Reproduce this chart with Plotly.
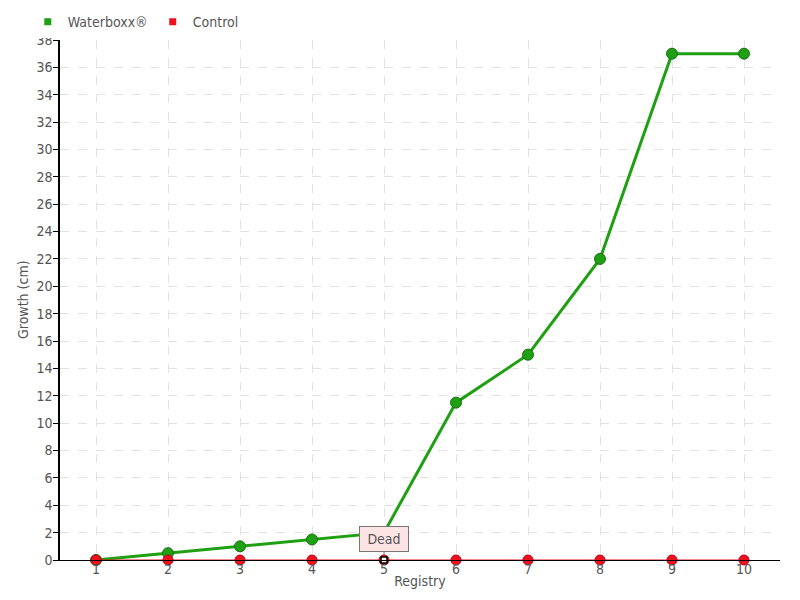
import plotly.graph_objects as go

registry = [1, 2, 3, 4, 5, 6, 7, 8, 9, 10]
waterboxx = [0, 0.5, 1, 1.5, 2, 11.5, 15, 22, 37, 37]
control = [0, 0, 0, 0, 0, 0, 0, 0, 0, 0]
note_x = 5
note_y = 0
note_text = "Dead"
y_ticks = list(range(0, 39, 2))

FONT = "DejaVu Sans Condensed, DejaVu Sans, sans-serif"
GREEN = "#1fa012"
RED = "#f0101e"

fig = go.Figure()
fig.add_trace(go.Scatter(
    x=registry, y=waterboxx, name="Waterboxx®", mode="lines+markers",
    line=dict(color=GREEN, width=3), showlegend=False, cliponaxis=False,
    marker=dict(color=GREEN, size=11, line=dict(color="#1a6e14", width=1)),
))
fig.add_trace(go.Scatter(
    x=registry, y=control, name="Control", mode="lines+markers",
    line=dict(color=RED, width=1.2), showlegend=False, cliponaxis=False,
    marker=dict(color=RED, size=10, line=dict(color="#c00010", width=1)),
))
fig.add_trace(go.Scatter(
    x=[note_x], y=[note_y], mode="markers", showlegend=False, hoverinfo="skip",
    cliponaxis=False,
    marker=dict(symbol="square", color="white", size=6, line=dict(color="black", width=1.5)),
))
# legend-only entries with square symbols
for nm, col in [("Waterboxx®", GREEN), ("Control", RED)]:
    fig.add_trace(go.Scatter(
        x=[None], y=[None], name=nm, mode="markers",
        marker=dict(symbol="square", color=col, size=7),
    ))

fig.add_annotation(
    x=note_x, y=note_y, text=note_text, showarrow=True, arrowhead=0,
    ax=0, ay=-21, arrowcolor="#777", arrowwidth=1, standoff=5,
    width=44, height=20,
    bgcolor="#fde4e4", bordercolor="#777", borderwidth=1, borderpad=2,
    font=dict(family=FONT, size=14, color="#555"),
)
# y-axis title
fig.add_annotation(
    xref="paper", yref="paper", x=0, y=0.5, xshift=-37, xanchor="center",
    yanchor="middle", textangle=-90, showarrow=False, text="Growth (cm)",
    font=dict(family=FONT, size=14, color="#555"),
)

# the page places the figure 8px in from the top-left corner
fig.update_layout(
    width=792, height=592,
    margin=dict(l=52, r=20, t=32, b=40, autoexpand=False),
    plot_bgcolor="white", paper_bgcolor="white",
    font=dict(family=FONT, size=14, color="#555"),
    showlegend=True,
    legend=dict(orientation="h", xref="container", x=0.025, xanchor="left",
                yref="container", y=0.976, yanchor="middle",
                font=dict(family=FONT, size=14, color="#555"),
                itemwidth=30, tracegroupgap=0),
    xaxis=dict(
        title=dict(text="Registry", standoff=0, font=dict(size=14, color="#555")),
        range=[0.5, 10.5], tickmode="array", tickvals=registry,
        showline=True, linecolor="black", linewidth=1,
        showgrid=True, gridcolor="#e2e2e2", griddash="dash", gridwidth=1,
        zeroline=False, ticks="", ticklen=0, automargin=False,
        ticklabelstandoff=-4,
        tickfont=dict(size=14, color="#555"),
    ),
    yaxis=dict(
        range=[0, 38], tickmode="array", tickvals=y_ticks,
        showline=True, linecolor="black", linewidth=1.5,
        showgrid=True, gridcolor="#e2e2e2", griddash="dash", gridwidth=1,
        zeroline=False, ticks="outside", ticklen=5, tickcolor="black",
        automargin=False, ticklabelstandoff=-2,
        tickfont=dict(size=14, color="#555"),
    ),
)

fig.write_html("out.html")
